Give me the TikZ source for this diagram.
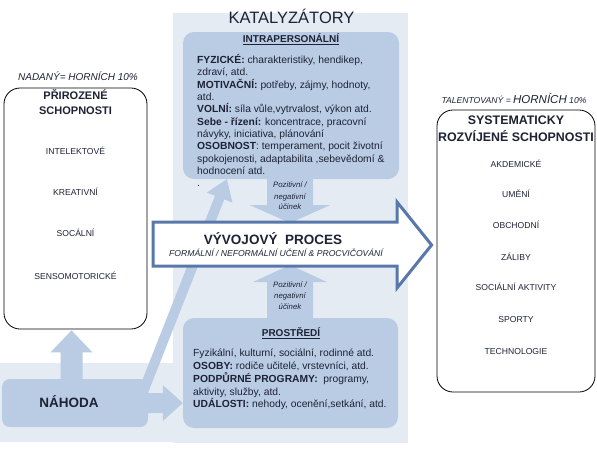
\documentclass[tikz,border=0pt]{standalone}
\usepackage{fontspec}
\setmainfont{Liberation Sans}
\usetikzlibrary{arrows.meta,calc}
\definecolor{panelbg}{HTML}{E5EBF3}
\definecolor{boxfill}{HTML}{B9CCE4}
\definecolor{procborder}{HTML}{5878AC}
\definecolor{darktext}{HTML}{1E2235}
\begin{document}
\begin{tikzpicture}[x=1pt,y=-1pt,
  every node/.style={text=darktext, inner sep=0pt},
  bluebox/.style={fill=boxfill, rounded corners=11pt},
  whitebox/.style={draw=black, line width=0.8pt, fill=white, rounded corners=16pt},
  itemtext/.style={anchor=base, font=\fontsize{8.6}{10}\selectfont},
  bodyline/.style={anchor=base west, font=\fontsize{10.3}{12}\selectfont},
  boxtitle/.style={anchor=base, font=\bfseries\fontsize{11}{13}\selectfont},
  effecttext/.style={anchor=base, font=\itshape\fontsize{7.8}{9}\selectfont},
  blockarrow/.style={fill=boxfill}
]
\useasboundingbox (0,0) rectangle (597,466);
\fill[white] (0,0) rectangle (597,466);

% backgrounds
\fill[panelbg] (173,13) rectangle (408,443);
\fill[panelbg] (0,363) rectangle (173,442);

% diagonal arrow (behind boxes)
\coordinate (dstart) at (143,392);
\coordinate (dend) at (227,179);
\draw[boxfill, line width=10pt, -{Triangle[width=26pt,length=20pt]}] (dstart) -- (dend);

% boxes
\node[bluebox, minimum width=216pt, minimum height=147pt] (intra) at (291,105.5) {};
\node[bluebox, minimum width=215pt, minimum height=110pt] (prost) at (290.5,373) {};
\node[bluebox, rounded corners=8pt, minimum width=146pt, minimum height=48pt] (nah) at (75,403) {};
\node[whitebox, minimum width=143pt, minimum height=241pt] (nat) at (75.5,208.5) {};
\node[whitebox, minimum width=158pt, minimum height=282pt] (sys) at (516,251) {};

% arrow Nahoda -> prirozene schopnosti
\coordinate (uatip) at ($(nat.south)+(-4,1)$);
\coordinate (uabase) at (uatip |- nah.north);
\fill[blockarrow] ($(uabase)+(-11,2)$) -- ($(uatip)+(-11,22)$) -- ($(uatip)+(-21,22)$) -- (uatip)
  -- ($(uatip)+(21,22)$) -- ($(uatip)+(11,22)$) -- ($(uabase)+(11,2)$) -- cycle;

% arrow Nahoda -> prostredi
\coordinate (ratip) at (prost.west |- nah.east);
\fill[blockarrow] ($(nah.east)+(-2,-10)$) -- ($(ratip)+(-20,-10)$) -- ($(ratip)+(-20,-18)$) -- (ratip)
  -- ($(ratip)+(-20,18)$) -- ($(ratip)+(-20,10)$) -- ($(nah.east)+(-2,10)$) -- cycle;

% effect arrows
\coordinate (ptop) at (290,223);
\coordinate (pbot) at (290,265);
\fill[blockarrow] ($(intra.south)+(-24,-3)$) -- ($(intra.south)+(-24,26)$) -- ($(intra.south)+(-41,26)$) -- (ptop)
  -- ($(intra.south)+(39,26)$) -- ($(intra.south)+(22,26)$) -- ($(intra.south)+(22,-3)$) -- cycle;
\fill[blockarrow] (pbot) -- ($(pbot)+(37,17)$) -- ($(pbot)+(23,17)$) -- ($(prost.north)+(22.5,3)$)
  -- ($(prost.north)+(-23.5,3)$) -- ($(pbot)+(-23,17)$) -- ($(pbot)+(-37,17)$) -- cycle;

% development process arrow
\coordinate (proctip) at ($(sys.west)+(-5,-6)$);
\draw[procborder, line width=3pt, fill=white, line join=miter]
  (153,222) -- (397,222) -- (397,202) -- (proctip) -- (397,288) -- (397,266) -- (153,266) -- cycle;

% texts: katalyzatory
\node[anchor=base, font=\fontsize{16.5}{19}\selectfont] (katt) at (291.5,23) {KATALYZÁTORY};
\node[anchor=base, font=\bfseries\fontsize{10}{12}\selectfont] (intrat) at (291,42.8) {\underline{INTRAPERSONÁLNÍ}};
\foreach \t [count=\n] in {
  {\textbf{FYZICKÉ:} charakteristiky, hendikep,},
  {zdraví, atd.},
  {\textbf{MOTIVAČNÍ:} potřeby, zájmy, hodnoty,},
  {atd.},
  {\textbf{VOLNÍ:} síla vůle,vytrvalost, výkon atd.},
  {\textbf{Sebe - řízení:} koncentrace, pracovní},
  {návyky, iniciativa, plánování},
  {\textbf{OSOBNOST}: temperament, pocit životní},
  {spokojenosti, adaptabilita ,sebevědomí \&},
  {hodnocení atd.},
  {.}}
  \node[bodyline] (il\n) at (197,{63.6+12.3*(\n-1)}) {\t};

\node[anchor=base, font=\bfseries\fontsize{10}{12}\selectfont] (prostt) at (291,336.8) {\underline{PROSTŘEDÍ}};
\foreach \t [count=\n] in {
  {Fyzikální, kulturní, sociální, rodinné atd.},
  {\textbf{OSOBY:} rodiče učitelé, vrstevníci, atd.},
  {\textbf{PODPŮRNÉ PROGRAMY:}\ \ programy,},
  {aktivity, služby, atd.},
  {\textbf{UDÁLOSTI:} nehody, ocenění,setkání, atd.}}
  \node[bodyline] (pl\n) at (193,{356.6+12.8*(\n-1)}) {\t};

% effect labels
\foreach \t/\yy [count=\n] in {{Pozitivní /}/187.5, {negativní}/199, {účinek}/209.5}
  \node[effecttext] (eu\n) at (290,\yy) {\t};
\foreach \t/\yy [count=\n] in {{Pozitivní /}/287.5, {negativní}/298.5, {účinek}/309.5}
  \node[effecttext] (el\n) at (290,\yy) {\t};

% process texts
\node[anchor=base, font=\bfseries\fontsize{13.5}{15}\selectfont] (vp) at (273,244.8) {VÝVOJOVÝ\ \ PROCES};
\node[anchor=base, font=\itshape\fontsize{8.6}{10}\selectfont] (vps) at (276,256) {FORMÁLNÍ / NEFORMÁLNÍ UČENÍ \& PROCVIČOVÁNÍ};

% left box
\node[anchor=base, font=\itshape\fontsize{10}{12}\selectfont] (nadt) at (78,80.5) {NADANÝ= HORNÍCH 10\%};
\node[boxtitle] (natt1) at (75.5,99) {PŘIROZENÉ};
\node[boxtitle] (natt2) at (75.5,114) {SCHOPNOSTI};
\foreach \t/\yy [count=\n] in {INTELEKTOVÉ/154, KREATIVNÍ/195, SOCÁLNÍ/236, SENSOMOTORICKÉ/279}
  \node[itemtext] (ni\n) at (75.5,\yy) {\t};

% right box
\node[anchor=base, font=\itshape] (talt) at (514,103.8)
  {{\fontsize{8.6}{10}\selectfont TALENTOVANÝ = }{\fontsize{11.5}{13}\selectfont HORNÍCH}{\fontsize{8.6}{10}\selectfont\ 10\%}};
\node[boxtitle, font=\bfseries\fontsize{12.4}{14}\selectfont] (syst1) at (516,124.4) {SYSTEMATICKY};
\node[boxtitle, font=\bfseries\fontsize{12.4}{14}\selectfont] (syst2) at (516,141.4) {ROZVÍJENÉ SCHOPNOSTI};
\foreach \t/\yy [count=\n] in {AKDEMICKÉ/167, UMĚNÍ/197, OBCHODNÍ/228, ZÁLIBY/260, SOCIÁLNÍ AKTIVITY/290, SPORTY/322, TECHNOLOGIE/354}
  \node[itemtext] (si\n) at (516,\yy) {\t};

% nahoda
\node[anchor=base, font=\bfseries\fontsize{13.5}{16}\selectfont] (naht) at (69,407) {NÁHODA};
\end{tikzpicture}
\end{document}
